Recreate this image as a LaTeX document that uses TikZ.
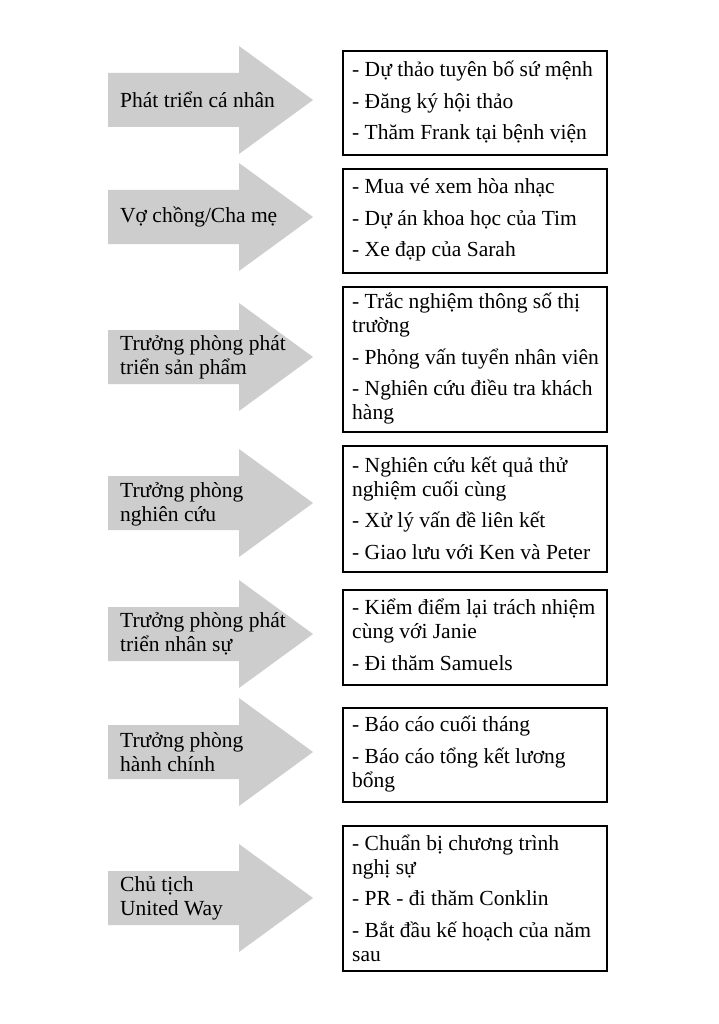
\documentclass[tikz,border=0pt]{standalone}
\usepackage{fontspec}
\setmainfont{Liberation Serif}
\definecolor{arrowgray}{RGB}{205,205,205}
\newcommand{\igap}{\\[7.5pt]}
\newcommand{\graybar}[1]{%
  \fill[arrowgray] (108,#1-27) -- (239,#1-27) -- (239,#1-54) -- (313,#1)
    -- (239,#1+54) -- (239,#1+27) -- (108,#1+27) -- cycle;}
\tikzset{
  arrowtext/.style={anchor=west, align=left, inner sep=0pt,
    font=\fontsize{21.5}{24}\selectfont},
  taskbox/.style={draw=black, line width=1.5pt, minimum width=264pt,
    inner sep=0pt},
  tasktext/.style={anchor=west, align=left, inner sep=0pt,
    font=\fontsize{21.5}{24}\selectfont},
}
\begin{document}
\begin{tikzpicture}[x=1pt,y=-1pt]
\useasboundingbox (0,0) rectangle (719,1024);
\fill[white] (0,0) rectangle (719,1024);

% arrows
\graybar{100}
\graybar{217}
\graybar{357}
\graybar{503}
\graybar{634}
\graybar{752}
\graybar{898}

\node[arrowtext] (a1) at (120,100) {Phát triển cá nhân};
\node[arrowtext] (a2) at (120,217) {Vợ chồng/Cha mẹ};
\node[arrowtext] (a3) at (120,357) {Trưởng phòng phát\\triển sản phẩm};
\node[arrowtext] (a4) at (120,504) {Trưởng phòng\\nghiên cứu};
\node[arrowtext] (a5) at (120,634) {Trưởng phòng phát\\triển nhân sự};
\node[arrowtext] (a6) at (120,752) {Trưởng phòng\\hành chính};
\node[arrowtext] (a7) at (120,898) {Chủ tịch\\United Way};

% task boxes
\node[taskbox, minimum height=104pt] (b1) at (475,103) {};
\node[taskbox, minimum height=104pt] (b2) at (475,221) {};
\node[taskbox, minimum height=145pt] (b3) at (475,359.5) {};
\node[taskbox, minimum height=126pt] (b4) at (475,509) {};
\node[taskbox, minimum height=95pt] (b5) at (475,637.5) {};
\node[taskbox, minimum height=94pt] (b6) at (475,755) {};
\node[taskbox, minimum height=145pt] (b7) at (475,898.5) {};

% task texts
\node[tasktext] (t1) at (352,102)
  {- Dự thảo tuyên bố sứ mệnh\igap - Đăng ký hội thảo\igap - Thăm Frank tại bệnh viện};
\node[tasktext] (t2) at (352,220)
  {- Mua vé xem hòa nhạc\igap - Dự án khoa học của Tim\igap - Xe đạp của Sarah};
\node[tasktext] (t3) at (352,359)
  {- Trắc nghiệm thông số thị\\trường\igap - Phỏng vấn tuyển nhân viên\igap - Nghiên cứu điều tra khách\\hàng};
\node[tasktext] (t4) at (352,508)
  {- Nghiên cứu kết quả thử\\nghiệm cuối cùng\igap - Xử lý vấn đề liên kết\igap - Giao lưu với Ken và Peter};
\node[tasktext] (t5) at (352,635)
  {- Kiểm điểm lại trách nhiệm\\cùng với Janie\igap - Đi thăm Samuels};
\node[tasktext] (t6) at (352,754)
  {- Báo cáo cuối tháng\igap - Báo cáo tổng kết lương\\bổng};
\node[tasktext] (t7) at (352,898)
  {- Chuẩn bị chương trình\\nghị sự\igap - PR - đi thăm Conklin\igap - Bắt đầu kế hoạch của năm\\sau};
\end{tikzpicture}
\end{document}
